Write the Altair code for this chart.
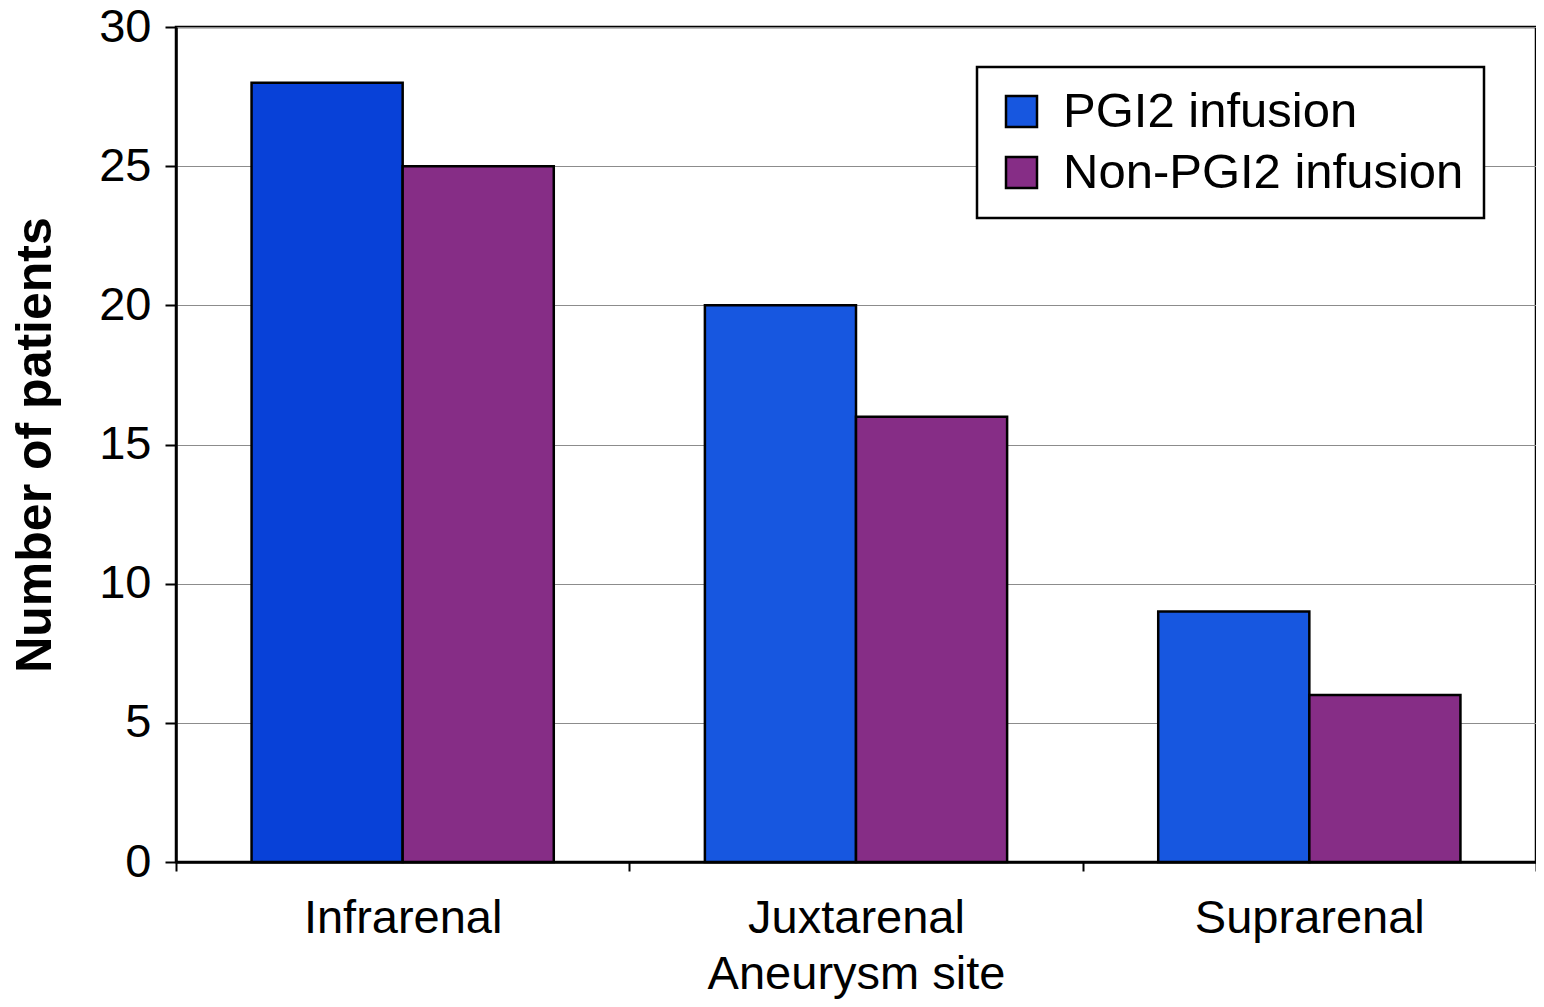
import altair as alt
import pandas as pd

sites = ["Infrarenal", "Juxtarenal", "Suprarenal"]
groups = ["PGI2 infusion", "Non-PGI2 infusion"]
pgi2 = [28, 20, 9]
non_pgi2 = [25, 16, 6]

rows = []
for i, s in enumerate(sites):
    rows.append({"site": s, "group": groups[0], "patients": pgi2[i]})
    rows.append({"site": s, "group": groups[1], "patients": non_pgi2[i]})
df = pd.DataFrame(rows)

font = "Liberation Sans, Arial, Helvetica"

chart = alt.Chart(df).mark_bar(stroke="black", strokeWidth=2.5).encode(
    x=alt.X("site:N", sort=sites, title="Aneurysm site",
            scale=alt.Scale(paddingInner=0, paddingOuter=0),
            axis=alt.Axis(labelAngle=0, tickBand="extent", tickSize=9, tickWidth=2,
                          tickColor="black", domainColor="black", domainWidth=2.5,
                          labelFontSize=47, labelPadding=24, labelColor="black",
                          labelLimit=1000,
                          titleFontSize=47, titleFontWeight="normal", titleColor="black",
                          titlePadding=10, grid=False)),
    xOffset=alt.XOffset("group:N", sort=groups,
                        scale=alt.Scale(paddingInner=0, paddingOuter=0.5)),
    y=alt.Y("patients:Q", title="Number of patients",
            scale=alt.Scale(domain=[0, 30], nice=False),
            axis=alt.Axis(values=[0, 5, 10, 15, 20, 25, 30], tickSize=11, tickWidth=2,
                          tickColor="black", domainColor="black", domainWidth=2.5,
                          labelFontSize=47, labelPadding=14, labelColor="black",
                          titleFontSize=50, titleFontWeight="bold", titleColor="black",
                          titlePadding=38, gridColor="#8c8c8c", gridWidth=1.2)),
    color=alt.condition(
        (alt.datum.site == "Infrarenal") & (alt.datum.group == "PGI2 infusion"),
        alt.value("#0841d8"),
        alt.Color("group:N", sort=groups,
                  scale=alt.Scale(domain=groups, range=["#1757e0", "#862d86"]),
                  legend=alt.Legend(title=None, orient="none", legendX=801, legendY=40,
                                    symbolType="square", symbolSize=961,
                                    symbolStrokeColor="black", symbolStrokeWidth=2.5,
                                    symbolOpacity=1,
                                    labelFontSize=49, labelColor="black", labelOffset=17,
                                    padding=20, rowPadding=11,
                                    strokeColor="black",
                                    fillColor="white", labelLimit=600)),
    ),
).properties(
    width=1360,
    height=835,
    autosize=alt.AutoSizeParams(type="none"),
    padding={"left": 168, "top": 19, "right": 0, "bottom": 137},
).configure(
    font=font,
).configure_legend(
    strokeWidth=2.5,
).configure_view(
    stroke="black", strokeWidth=2.5,
)

chart.save("out.html", embed_options={"renderer": "svg", "actions": False})
